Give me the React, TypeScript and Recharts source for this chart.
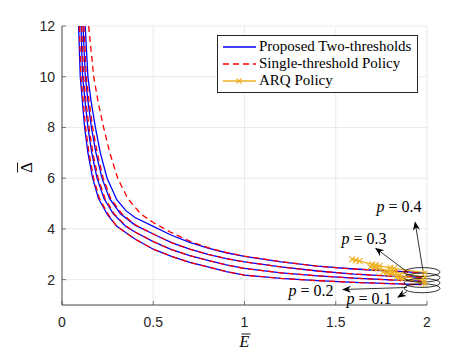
import React from "react";
import {
  LineChart,
  Line,
  XAxis,
  YAxis,
  CartesianGrid,
  Legend,
  ReferenceDot,
  ReferenceLine,
} from "recharts";

// tick values
const eTicks = [0, 0.5, 1, 1.5, 2];
const dTicks = [2, 4, 6, 8, 10, 12];

// proposed two-thresholds policy, [E, Delta]
const twoP01 = [[0.091, 12], [0.1, 10], [0.112, 9], [0.124, 8], [0.142, 7], [0.168, 6], [0.2, 5.2], [0.25, 4.55], [0.3, 4.1], [0.4, 3.6], [0.5, 3.2], [0.6, 2.92], [0.7, 2.68], [0.8, 2.5], [0.9, 2.32], [1.0, 2.18], [1.2, 2.05], [1.4, 1.96], [1.6, 1.89], [1.8, 1.84], [1.97, 1.8]];
const twoP02 = [[0.104, 12], [0.113, 10], [0.127, 9], [0.142, 8], [0.163, 7], [0.192, 6], [0.23, 5.2], [0.28, 4.6], [0.35, 4.1], [0.4, 3.88], [0.5, 3.5], [0.6, 3.18], [0.7, 2.95], [0.8, 2.76], [0.9, 2.58], [1.0, 2.44], [1.2, 2.27], [1.4, 2.15], [1.6, 2.06], [1.8, 1.99], [1.97, 1.94]];
const twoP03 = [[0.115, 12], [0.128, 10], [0.143, 9], [0.161, 8], [0.186, 7], [0.219, 6], [0.26, 5.2], [0.32, 4.6], [0.4, 4.15], [0.5, 3.8], [0.6, 3.46], [0.7, 3.2], [0.8, 3.0], [0.9, 2.83], [1.0, 2.7], [1.2, 2.5], [1.4, 2.34], [1.6, 2.22], [1.8, 2.14], [1.97, 2.09]];
const twoP04 = [[0.127, 12], [0.142, 10], [0.16, 9], [0.183, 8], [0.21, 7], [0.247, 6], [0.3, 5.15], [0.35, 4.72], [0.4, 4.45], [0.5, 4.1], [0.6, 3.75], [0.7, 3.47], [0.8, 3.24], [0.9, 3.06], [1.0, 2.92], [1.2, 2.7], [1.4, 2.53], [1.6, 2.42], [1.8, 2.34], [1.97, 2.28]];

// single-threshold policy
const oneP01 = [[0.095, 12], [0.104, 10], [0.117, 9], [0.129, 8], [0.148, 7], [0.173, 6], [0.205, 5.2], [0.255, 4.55], [0.3, 4.1], [0.4, 3.6], [0.5, 3.2], [0.6, 2.92], [0.7, 2.68], [0.8, 2.5], [0.9, 2.32], [1.0, 2.18], [1.2, 2.05], [1.4, 1.96], [1.6, 1.89], [1.8, 1.84], [1.97, 1.8]];
const oneP02 = [[0.108, 12], [0.118, 10], [0.132, 9], [0.148, 8], [0.169, 7], [0.198, 6], [0.236, 5.2], [0.285, 4.6], [0.35, 4.12], [0.4, 3.88], [0.5, 3.5], [0.6, 3.18], [0.7, 2.95], [0.8, 2.76], [0.9, 2.58], [1.0, 2.44], [1.2, 2.27], [1.4, 2.15], [1.6, 2.06], [1.8, 1.99], [1.97, 1.94]];
const oneP03 = [[0.12, 12], [0.133, 10], [0.149, 9], [0.168, 8], [0.193, 7], [0.226, 6], [0.267, 5.2], [0.325, 4.62], [0.4, 4.17], [0.5, 3.8], [0.6, 3.46], [0.7, 3.2], [0.8, 3.0], [0.9, 2.83], [1.0, 2.7], [1.2, 2.5], [1.4, 2.34], [1.6, 2.22], [1.8, 2.14], [1.97, 2.09]];
const oneP04 = [[0.146, 12], [0.16, 11], [0.174, 10], [0.198, 9], [0.228, 8], [0.262, 7], [0.305, 6], [0.36, 5.2], [0.43, 4.6], [0.5, 4.25], [0.6, 3.85], [0.7, 3.52], [0.8, 3.26], [0.9, 3.07], [1.0, 2.93], [1.2, 2.71], [1.4, 2.53], [1.6, 2.42], [1.8, 2.34], [1.97, 2.28]];

// ARQ policy
const arqP01 = [[1.83, 2.1], [1.85, 2.07], [1.87, 2.04], [1.99, 1.82]];
const arqP02 = [[1.76, 2.3], [1.78, 2.27], [1.8, 2.24], [1.85, 2.17], [1.99, 1.95]];
const arqP03 = [[1.69, 2.5], [1.71, 2.47], [1.73, 2.44], [1.8, 2.34], [1.82, 2.31], [1.99, 2.1]];
const arqP04 = [[1.59, 2.8], [1.61, 2.76], [1.63, 2.73], [1.7, 2.6], [1.72, 2.57], [1.74, 2.54], [1.8, 2.46], [1.82, 2.44], [1.99, 2.28]];

// annotations: ellipse centres, label spots, arrows [from, to]
const ellipseDs = [2.3, 2.08, 1.87, 1.66];
const ellipseE = 1.973;
const pLabels = [
  { text: "0.4", E: 1.847, D: 4.87 },
  { text: "0.3", E: 1.655, D: 3.61 },
  { text: "0.2", E: 1.364, D: 1.57 },
  { text: "0.1", E: 1.682, D: 1.25 },
];
const pArrows = [
  [[1.978, 2.35], [1.934, 4.3]],
  [[1.896, 2.28], [1.715, 3.26]],
  [[1.89, 1.69], [1.534, 1.61]],
  [[1.89, 1.53], [1.836, 1.29]],
];

const pts = (a: number[][]) => a.map(([E, D]) => ({ E, D }));

const BLUE = "#0000ff";
const RED = "#ff0000";
const ORANGE = "#EDB120";
const AX = "#262626";
const tickFont = "'Liberation Sans', Arial, sans-serif";
const serif = "'Liberation Serif', 'Times New Roman', serif";

const XTick = (p: any) => (
  <g>
    <line x1={p.x} y1={p.y} x2={p.x} y2={p.y - 4} stroke={AX} strokeWidth={0.6} />
    <text x={p.x} y={p.y + 22} textAnchor="middle" fontSize={14} fontFamily={tickFont} fill={AX}>
      {p.payload.value}
    </text>
  </g>
);

const YTick = (p: any) => (
  <g>
    <line x1={p.x} y1={p.y} x2={p.x + 4} y2={p.y} stroke={AX} strokeWidth={0.6} />
    <text x={p.x - 7} y={p.y + 5} textAnchor="end" fontSize={14} fontFamily={tickFont} fill={AX}>
      {p.payload.value}
    </text>
  </g>
);

// E with a bar over it
const XLabel = (p: any) => {
  const { x, y, width } = p.viewBox;
  const cx = x + width / 2;
  return (
    <g>
      <text x={cx} y={y + 42} textAnchor="middle" fontFamily={serif} fontStyle="italic" fontSize={16} fill="#000">
        E
      </text>
      <line x1={cx - 3} x2={cx + 6} y1={y + 29} y2={y + 29} stroke="#000" strokeWidth={0.9} />
    </g>
  );
};

// Delta with a bar, turned on its side
const YLabel = (p: any) => {
  const { y, height } = p.viewBox;
  const cy = y + height / 2 + 2;
  return (
    <g transform={`translate(26, ${cy}) rotate(-90)`}>
      <text x={0} y={6} textAnchor="middle" fontFamily={serif} fontSize={17} fill="#000">
        {"\u0394"}
      </text>
      <line x1={-5} x2={5} y1={-8.5} y2={-8.5} stroke="#000" strokeWidth={0.9} />
    </g>
  );
};

const xMark = (p: any) => {
  const { cx, cy, index } = p;
  if (cx == null || cy == null) return <g key={index} />;
  const s = 3;
  return (
    <path
      key={index}
      d={`M${cx - s},${cy - s}L${cx + s},${cy + s}M${cx - s},${cy + s}L${cx + s},${cy - s}`}
      stroke={ORANGE}
      strokeWidth={1.1}
    />
  );
};

const arrowShape = (p: any) => {
  const { x1, y1, x2, y2 } = p;
  const a = Math.atan2(y2 - y1, x2 - x1);
  const L = 9;
  const W = 3.6;
  const c = Math.cos(a);
  const s = Math.sin(a);
  const bx = x2 - L * c;
  const by = y2 - L * s;
  const nx = x2 - L * 0.7 * c;
  const ny = y2 - L * 0.7 * s;
  const pts2 = `${x2},${y2} ${bx - s * W},${by + c * W} ${nx},${ny} ${bx + s * W},${by - c * W}`;
  return (
    <g>
      <line x1={x1} y1={y1} x2={nx} y2={ny} stroke="#000" strokeWidth={0.8} />
      <polygon points={pts2} fill="#000" />
    </g>
  );
};

const LegendBox = () => {
  const rows = [
    { name: "Proposed Two-thresholds", color: BLUE, dash: undefined, mark: false },
    { name: "Single-threshold Policy", color: RED, dash: "6 4", mark: false },
    { name: "ARQ Policy", color: ORANGE, dash: undefined, mark: true },
  ];
  return (
    <div
      style={{
        border: `1px solid ${AX}`,
        background: "#fff",
        padding: "2px 0 3px 4px",
        fontFamily: serif,
        fontSize: 15,
        color: "#000",
        lineHeight: "17px",
      }}
    >
      {rows.map((r) => (
        <div key={r.name} style={{ display: "flex", alignItems: "center", height: 17 }}>
          <svg width={36} height={10} style={{ marginRight: 1 }}>
            <line x1={1} y1={5} x2={34} y2={5} stroke={r.color} strokeWidth={1.4} strokeDasharray={r.dash} />
            {r.mark && <path d="M14.5,2.5L19.5,7.5M14.5,7.5L19.5,2.5" stroke={r.color} strokeWidth={1.1} />}
          </svg>
          <span>{r.name}</span>
        </div>
      ))}
    </div>
  );
};

export default function App() {
  return (
    <div style={{ position: "absolute", left: 0, top: 0, background: "#fff" }}>
      <LineChart width={471} height={353} margin={{ top: 26, right: 44, bottom: 0, left: 0 }}>
        <CartesianGrid stroke="#e4e4e4" strokeWidth={0.8} />
        <XAxis
          dataKey="E"
          type="number"
          domain={[0, 2]}
          ticks={eTicks}
          allowDataOverflow
          height={48}
          tickSize={0}
          tickMargin={0}
          tick={XTick}
          axisLine={{ stroke: AX, strokeWidth: 0.8 }}
          label={XLabel}
        />
        <XAxis
          xAxisId="top"
          orientation="top"
          dataKey="E"
          type="number"
          domain={[0, 2]}
          ticks={eTicks}
          mirror
          height={0}
          tick={false}
          tickSize={4}
          tickLine={{ stroke: AX, strokeWidth: 0.6 }}
          axisLine={{ stroke: AX, strokeWidth: 0.8 }}
        />
        <YAxis
          type="number"
          domain={[1, 12]}
          ticks={dTicks}
          allowDataOverflow
          width={62}
          tickSize={0}
          tickMargin={0}
          tick={YTick}
          axisLine={{ stroke: AX, strokeWidth: 0.8 }}
          label={YLabel}
        />
        <YAxis
          yAxisId="right"
          orientation="right"
          type="number"
          domain={[1, 12]}
          ticks={dTicks}
          mirror
          width={0}
          tick={false}
          tickSize={4}
          tickLine={{ stroke: AX, strokeWidth: 0.6 }}
          axisLine={{ stroke: AX, strokeWidth: 0.8 }}
        />
        {[twoP01, twoP02, twoP03, twoP04].map((s, i) => (
          <Line key={`two${i}`} data={pts(s)} dataKey="D" stroke={BLUE} strokeWidth={1.3} dot={false} isAnimationActive={false} />
        ))}
        {[oneP01, oneP02, oneP03, oneP04].map((s, i) => (
          <Line key={`one${i}`} data={pts(s)} dataKey="D" stroke={RED} strokeWidth={1.3} strokeDasharray="6 4" dot={false} isAnimationActive={false} />
        ))}
        {[arqP01, arqP02, arqP03, arqP04].map((s, i) => (
          <Line key={`arq${i}`} data={pts(s)} dataKey="D" stroke={ORANGE} strokeWidth={1.3} dot={xMark} isAnimationActive={false} />
        ))}
        {ellipseDs.map((d, i) => (
          <ReferenceDot
            key={`el${i}`}
            x={ellipseE}
            y={d}
            ifOverflow="visible"
            shape={(p: any) => <ellipse cx={p.cx} cy={p.cy} rx={18} ry={4.5} fill="none" stroke="#000" strokeWidth={0.8} />}
          />
        ))}
        {pArrows.map((a, i) => (
          <ReferenceLine
            key={`ar${i}`}
            segment={[{ x: a[0][0], y: a[0][1] }, { x: a[1][0], y: a[1][1] }]}
            ifOverflow="visible"
            shape={arrowShape}
          />
        ))}
        {pLabels.map((l, i) => (
          <ReferenceDot
            key={`lb${i}`}
            x={l.E}
            y={l.D}
            ifOverflow="visible"
            shape={(p: any) => (
              <text x={p.cx} y={p.cy + 5} textAnchor="middle" fontFamily={serif} fontSize={16} fill="#000">
                <tspan fontStyle="italic">p</tspan>
                <tspan dx={4}>=</tspan>
                <tspan dx={4}>{l.text}</tspan>
              </text>
            )}
          />
        ))}
        <Legend
          layout="horizontal"
          verticalAlign="middle"
          content={LegendBox}
          wrapperStyle={{ position: "absolute", left: 217, top: 35, width: 201, height: "auto" }}
        />
      </LineChart>
    </div>
  );
}
